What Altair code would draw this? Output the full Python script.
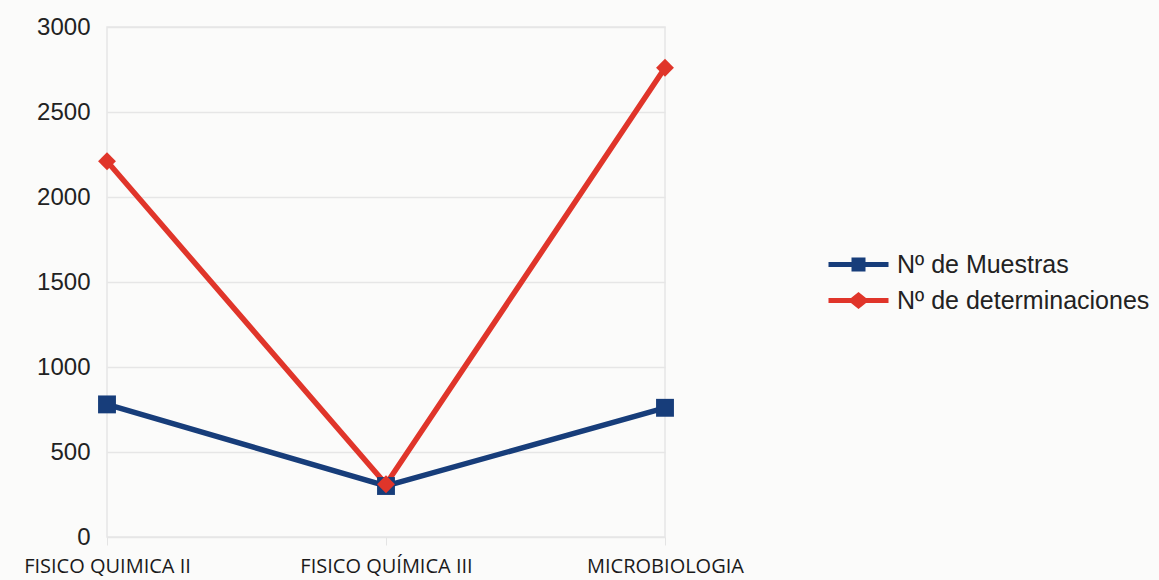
import altair as alt
import pandas as pd

# Categories and series values
categories = ["FISICO QUIMICA II", "FISICO QUÍMICA III", "MICROBIOLOGIA"]
series = ["Nº de Muestras", "Nº de determinaciones"]
muestras = [780, 300, 760]
determinaciones = [2210, 310, 2760]
y_ticks = [0, 500, 1000, 1500, 2000, 2500, 3000]

colors = ["#173d7a", "#e0352a"]

rows = []
for name, vals in zip(series, [muestras, determinaciones]):
    for cat, v in zip(categories, vals):
        rows.append({"categoria": cat, "serie": name, "valor": v})
df = pd.DataFrame(rows)

x_enc = alt.X(
    "categoria:N",
    sort=categories,
    scale=alt.Scale(type="point", padding=0),
    axis=alt.Axis(
        title=None,
        labelAngle=0,
        labelFont="Open Sans",
        labelFontSize=20,
        labelColor="#1a1a1a",
        labelPadding=11,
        labelLimit=400,
        domain=False,
        ticks=True,
        tickColor="#e4e4e4",
        tickSize=8,
        grid=False,
    ),
)
y_enc = alt.Y(
    "valor:Q",
    scale=alt.Scale(domain=[0, 3000], nice=False),
    axis=alt.Axis(
        title=None,
        values=y_ticks,
        format="d",
        labelFont="Liberation Sans",
        labelFontSize=24,
        labelColor="#222222",
        labelPadding=17,
        domain=False,
        ticks=False,
        grid=True,
        gridColor="#e6e6e6",
        gridWidth=1.5,
    ),
)

color_scale = alt.Scale(domain=series, range=colors)

base = alt.Chart(df)

lines = base.mark_line(strokeWidth=5.5).encode(
    x=x_enc,
    y=y_enc,
    color=alt.Color("serie:N", scale=color_scale, legend=None),
)

points = base.mark_point(filled=True, opacity=1, size=320).encode(
    x=x_enc,
    y=y_enc,
    color=alt.Color("serie:N", scale=color_scale, legend=None),
    shape=alt.Shape(
        "serie:N",
        scale=alt.Scale(domain=series, range=["square", "diamond"]),
        legend=None,
    ),
)

# Legend glyphs: a line segment with the series marker in the middle
sym_square = "M-3,-0.25H-0.7V-0.7H0.7V-0.25H3V0.25H0.7V0.7H-0.7V0.25H-3Z"
sym_diamond = "M-3,-0.25H-0.75L0,-0.85L0.75,-0.25H3V0.25H0.75L0,0.85L-0.75,0.25H-3Z"

legend_props = dict(
    title=None,
    orient="none",
    legendX=739,
    legendY=225,
    symbolSize=400,
    symbolStrokeWidth=0,
    labelFont="Liberation Sans",
    labelFontSize=25,
    labelColor="#222222",
    labelOffset=26,
    rowPadding=10,
    labelLimit=400,
)

legend_layer = base.transform_filter("false").mark_point(filled=True, opacity=1).encode(
    x=x_enc,
    y=y_enc,
    color=alt.Color("serie:N", scale=color_scale, legend=alt.Legend(**legend_props)),
    shape=alt.Shape(
        "serie:N",
        scale=alt.Scale(domain=series, range=[sym_square, sym_diamond]),
        legend=alt.Legend(**legend_props),
    ),
)

chart = (
    alt.layer(lines, points, legend_layer)
    .resolve_scale(color="independent", shape="independent")
    .properties(
        width=558,
        height=510,
        autosize="none",
        padding={"left": 107, "top": 27, "right": 494, "bottom": 43},
        background="#fbfbfa",
    )
    .configure_view(stroke="#e6e6e6", strokeWidth=1.5)
)

chart.save("out.html", embed_options={"renderer": "svg", "actions": False})
